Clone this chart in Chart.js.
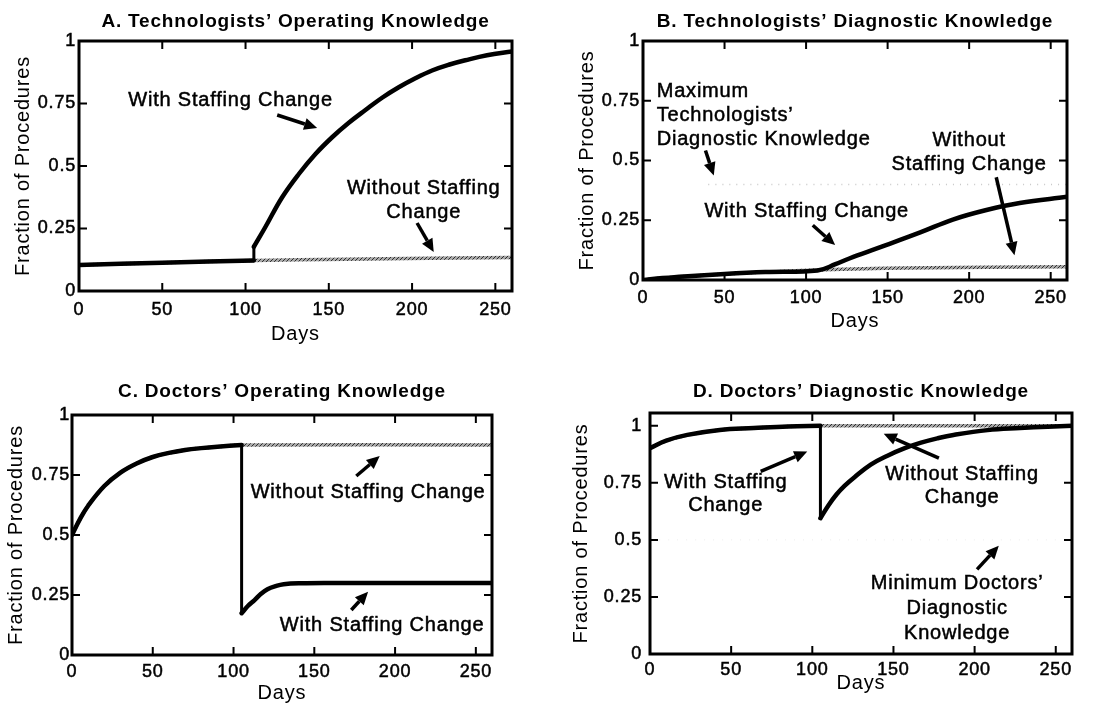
<!DOCTYPE html>
<html>
<head>
<meta charset="utf-8">
<title>Staffing change simulation</title>
<script src="https://cdn.jsdelivr.net/npm/chart.js@4.4.0/dist/chart.umd.min.js"></script>
<style>
  html, body { margin: 0; padding: 0; background: #fff; }
  #wrap { position: relative; width: 1108px; height: 705px; overflow: hidden; }
  #wrap canvas { position: absolute; }
</style>
</head>
<body>
<div id="wrap">
  <canvas id="chartA" width="554" height="346" style="left:0;top:0"></canvas>
  <canvas id="chartB" width="554" height="346" style="left:554px;top:0"></canvas>
  <canvas id="chartC" width="554" height="355" style="left:0;top:350px"></canvas>
  <canvas id="chartD" width="554" height="355" style="left:554px;top:350px"></canvas>
</div>
<script>
// ---------- data ----------
const dayTicks = [0, 50, 100, 150, 200, 250];
const fracTicks = [0, 0.25, 0.5, 0.75, 1];

// A. Technologists' operating knowledge
const aWithDays    = [0, 50, 105, 105, 112, 122, 132, 142, 152, 162, 172, 182, 192, 202, 212, 222, 232, 245, 260];
const aWithVals    = [0.104, 0.113, 0.122, 0.177, 0.257, 0.375, 0.468, 0.548, 0.615, 0.673, 0.724, 0.773, 0.815, 0.851, 0.882, 0.905, 0.923, 0.943, 0.958];
const aWithoutDays = [0, 50, 105, 160, 260];
const aWithoutVals = [0.104, 0.113, 0.122, 0.127, 0.134];

// B. Technologists' diagnostic knowledge
const bWithDays    = [0, 12, 25, 50, 75, 107, 118, 129, 149, 170, 190, 210, 231, 260];
const bWithVals    = [0, 0.008, 0.015, 0.025, 0.033, 0.040, 0.066, 0.097, 0.146, 0.199, 0.253, 0.292, 0.322, 0.348];
const bWithoutDays = [0, 12, 25, 50, 75, 107, 160, 260];
const bWithoutVals = [0, 0.008, 0.015, 0.025, 0.033, 0.042, 0.050, 0.055];
const bMaxDays     = [40, 260];
const bMaxVals     = [0.4, 0.4];

// C. Doctors' operating knowledge
const cWithDays    = [0, 5, 10, 20, 30, 40, 50, 60, 70, 80, 90, 105, 105, 109, 113, 117, 121, 126, 131, 142, 160, 260];
const cWithVals    = [0.5, 0.567, 0.622, 0.704, 0.76, 0.798, 0.825, 0.842, 0.854, 0.862, 0.868, 0.875, 0.174, 0.205, 0.229, 0.255, 0.274, 0.287, 0.295, 0.299, 0.30, 0.30];
const cWithoutDays = [0, 5, 10, 20, 30, 40, 50, 60, 70, 80, 90, 105, 260];
const cWithoutVals = [0.5, 0.567, 0.622, 0.704, 0.76, 0.798, 0.825, 0.842, 0.854, 0.862, 0.868, 0.875, 0.875];

// D. Doctors' diagnostic knowledge
const dWithDays    = [0, 10, 23, 43, 64, 85, 105, 105, 110, 115, 120, 126, 136, 146, 157, 167, 177, 187, 208, 228, 245, 260];
const dWithVals    = [0.902, 0.935, 0.96, 0.982, 0.99, 0.997, 1.0, 0.595, 0.652, 0.700, 0.738, 0.775, 0.830, 0.868, 0.902, 0.926, 0.945, 0.96, 0.981, 0.99, 0.996, 1.0];
const dWithoutDays = [0, 10, 23, 43, 64, 85, 105, 260];
const dWithoutVals = [0.902, 0.935, 0.96, 0.982, 0.99, 0.997, 1.0, 1.0];
const dMinDays     = [0, 260];
const dMinVals     = [0.5, 0.5];

// annotations, in data units: [text, day, value, align]
const aTexts  = [['With Staffing Change', 91, 0.764], ['Without Staffing', 207, 0.412], ['Change', 207, 0.316]];
const aArrows = [[119, 0.704, 143, 0.652], [203, 0.272, 213, 0.156]];
const bTexts  = [['Maximum', 8.4, 0.789, 'left'], ['Technologists\u2019', 8.4, 0.6875, 'left'], ['Diagnostic Knowledge', 8.4, 0.59, 'left'],
                 ['Without', 200, 0.583], ['Staffing Change', 200, 0.482], ['With Staffing Change', 100.4, 0.2875]];
const bArrows = [[38.3, 0.542, 43.4, 0.4375], [216.6, 0.43, 227.8, 0.104], [104.1, 0.229, 117.8, 0.146]];
const cTexts  = [['Without Staffing Change', 183.3, 0.676], ['With Staffing Change', 192, 0.125]];
const cArrows = [[176, 0.746, 190.5, 0.829], [172.9, 0.1875, 183.3, 0.264]];
const dTexts  = [['With Staffing', 46.6, 0.751], ['Change', 46.6, 0.649], ['Without Staffing', 192.3, 0.788], ['Change', 192.3, 0.686],
                 ['Minimum Doctors\u2019', 189.2, 0.31], ['Diagnostic', 189.2, 0.20], ['Knowledge', 189.2, 0.09]];
const dArrows = [[68.2, 0.80, 96.9, 0.887], [178, 0.858, 144, 0.965], [201.5, 0.371, 214.9, 0.474]];

// ---------- helpers ----------
const FONT = "'Liberation Sans', Arial, Helvetica, sans-serif";

// grey hatched stroke used for the "without" runs
const hatch = (function () {
    const c = document.createElement('canvas');
    c.width = 4; c.height = 4;
    const g = c.getContext('2d');
    g.fillStyle = '#a8a8a8';
    g.fillRect(0, 0, 4, 4);
    g.fillStyle = '#2e2e2e';
    for (let i = 0; i < 4; i++) g.fillRect(i, 3 - i, 1, 1);
    return g.createPattern(c, 'repeat');
})();

// split a series where a day repeats (sudden jump) so the curve stays smooth
function segments(days, vals) {
    const parts = [];
    let cur = [];
    days.forEach((d, i) => {
        if (i > 0 && d === days[i - 1]) {
            parts.push(cur);
            parts.push([{ x: d, y: vals[i - 1] }, { x: d, y: vals[i] }]);
            cur = [];
        }
        cur.push({ x: d, y: vals[i] });
    });
    parts.push(cur);
    return parts;
}

// box with inward ticks on all four sides
const frame = {
    id: 'frame',
    beforeUpdate(chart) { chart.ctx.letterSpacing = '0.8px'; },
    beforeDraw(chart) { chart.ctx.letterSpacing = '0.8px'; },
    afterDatasetsDraw(chart) {
        const { ctx, chartArea: a, scales: { x, y } } = chart;
        ctx.save();
        ctx.strokeStyle = '#000';
        ctx.lineWidth = 2;
        ctx.beginPath();
        x.ticks.forEach(t => {
            const p = x.getPixelForValue(t.value);
            ctx.moveTo(p, a.bottom); ctx.lineTo(p, a.bottom - 8);
            ctx.moveTo(p, a.top); ctx.lineTo(p, a.top + 8);
        });
        y.ticks.forEach(t => {
            const p = y.getPixelForValue(t.value);
            ctx.moveTo(a.left, p); ctx.lineTo(a.left + 8, p);
            ctx.moveTo(a.right, p); ctx.lineTo(a.right - 8, p);
        });
        ctx.stroke();
        ctx.lineWidth = 3;
        ctx.strokeRect(a.left, a.top, a.right - a.left, a.bottom - a.top);
        ctx.restore();
    }
};

function notes(texts, arrows) {
    return {
        id: 'notes',
        afterDraw(chart) {
            const { ctx, scales: { x, y } } = chart;
            ctx.save();
            ctx.fillStyle = '#000';
            ctx.strokeStyle = '#000';
            ctx.font = '20px ' + FONT;
            ctx.letterSpacing = '0.8px';
            ctx.textBaseline = 'middle';
            ctx.lineWidth = 0.5;
            texts.forEach(t => {
                ctx.textAlign = t[3] || 'center';
                const px = x.getPixelForValue(t[1]), py = y.getPixelForValue(t[2]);
                ctx.fillText(t[0], px, py);
                ctx.strokeText(t[0], px, py);
            });
            arrows.forEach(r => {
                const x1 = x.getPixelForValue(r[0]), y1 = y.getPixelForValue(r[1]);
                const x2 = x.getPixelForValue(r[2]), y2 = y.getPixelForValue(r[3]);
                const ang = Math.atan2(y2 - y1, x2 - x1);
                const head = 13, half = 6;
                const bx = x2 - head * Math.cos(ang), by = y2 - head * Math.sin(ang);
                ctx.lineWidth = 3.5;
                ctx.beginPath();
                ctx.moveTo(x1, y1);
                ctx.lineTo(bx, by);
                ctx.stroke();
                ctx.beginPath();
                ctx.moveTo(x2, y2);
                ctx.lineTo(bx + half * Math.sin(ang), by - half * Math.cos(ang));
                ctx.lineTo(bx - half * Math.sin(ang), by + half * Math.cos(ang));
                ctx.closePath();
                ctx.fill();
            });
            ctx.restore();
        }
    };
}

function panel(id, o) {
    const datasets = [];
    o.lines.forEach(l => {
        segments(l.days, l.vals).forEach(pts => {
            const jump = pts.length === 2 && pts[0].x === pts[1].x;
            datasets.push({
                data: pts,
                borderColor: l.color,
                borderWidth: jump ? l.width - 1.5 : l.width,
                borderDash: l.dash || [],
                tension: 0.4,
                pointRadius: 0,
                borderCapStyle: l.dash ? 'butt' : 'round',
                borderJoinStyle: 'round',
                fill: false
            });
        });
    });

    new Chart(document.getElementById(id), {
        type: 'line',
        data: { datasets: datasets },
        plugins: [frame, notes(o.texts, o.arrows)],
        options: {
            responsive: false,
            animation: false,
            events: [],
            layout: { padding: { left: 0, top: 0, bottom: 0, right: o.padRight } },
            plugins: {
                legend: { display: false },
                tooltip: { enabled: false },
                title: {
                    display: true, fullSize: false, text: o.title, color: '#000',
                    font: { family: FONT, size: 19, weight: 'bold' },
                    padding: { top: o.titleTop, bottom: o.titleBottom }
                }
            },
            scales: {
                x: {
                    type: 'linear', min: 0, max: 260,
                    grid: { display: false, drawTicks: false },
                    border: { display: false },
                    afterBuildTicks: s => { s.ticks = dayTicks.map(v => ({ value: v })); },
                    ticks: { color: '#000', padding: o.xTickPad, maxRotation: 0, autoSkip: false,
                             textStrokeColor: '#000', textStrokeWidth: 0.5,
                             font: { family: FONT, size: 18 }, callback: v => String(v) },
                    title: { display: true, text: 'Days', color: '#000', font: { family: FONT, size: 20 },
                             padding: { top: 0, bottom: o.xTitlePad } },
                    afterFit: s => { s.height = o.xHeight; }
                },
                y: {
                    type: 'linear', min: 0, max: o.yMax,
                    grid: { display: false, drawTicks: false },
                    border: { display: false },
                    afterBuildTicks: s => { s.ticks = fracTicks.map(v => ({ value: v })); },
                    ticks: { color: '#000', padding: o.yTickPad, autoSkip: false,
                             textStrokeColor: '#000', textStrokeWidth: 0.5,
                             font: { family: FONT, size: 18 }, callback: v => String(v) },
                    title: { display: true, text: 'Fraction of Procedures', color: '#000', font: { family: FONT, size: 20 },
                             padding: { top: o.yTitlePad, bottom: 0 } },
                    afterFit: s => { s.width = o.yWidth; }
                }
            }
        }
    });
}

// ---------- the four panels ----------
panel('chartA', {
    title: 'A. Technologists\u2019 Operating Knowledge',
    lines: [
        { days: aWithDays, vals: aWithVals, color: '#000', width: 4.5 },
        { days: aWithoutDays, vals: aWithoutVals, color: hatch, width: 3.5 }
    ],
    texts: aTexts, arrows: aArrows, yMax: 1,
    yWidth: 79, xHeight: 55, padRight: 42, titleTop: 10.6, titleBottom: 7.6,
    yTickPad: 3, yTitlePad: 11, xTickPad: 8, xTitlePad: 0
});

panel('chartB', {
    title: 'B. Technologists\u2019 Diagnostic Knowledge',
    lines: [
        { days: bWithDays, vals: bWithVals, color: '#000', width: 4.5 },
        { days: bWithoutDays, vals: bWithoutVals, color: hatch, width: 3.5 },
        { days: bMaxDays, vals: bMaxVals, color: '#c8c8c8', width: 1.5, dash: [1, 6] }
    ],
    texts: bTexts, arrows: bArrows, yMax: 1,
    yWidth: 89, xHeight: 66, padRight: 41, titleTop: 10.6, titleBottom: 7.6,
    yTickPad: 3, yTitlePad: 21.5, xTickPad: 7, xTitlePad: 12.3
});

panel('chartC', {
    title: 'C. Doctors\u2019 Operating Knowledge',
    lines: [
        { days: cWithDays, vals: cWithVals, color: '#000', width: 4.5 },
        { days: cWithoutDays, vals: cWithoutVals, color: hatch, width: 3.5 }
    ],
    texts: cTexts, arrows: cArrows, yMax: 1,
    yWidth: 72, xHeight: 50, padRight: 62, titleTop: 30.6, titleBottom: 11.6,
    yTickPad: 2, yTitlePad: 4.5, xTickPad: 6, xTitlePad: 0
});

panel('chartD', {
    title: 'D. Doctors\u2019 Diagnostic Knowledge',
    lines: [
        { days: dWithDays, vals: dWithVals, color: '#000', width: 4.5 },
        { days: dWithoutDays, vals: dWithoutVals, color: hatch, width: 3.5 },
        { days: dMinDays, vals: dMinVals, color: '#ececec', width: 1, dash: [1, 8] }
    ],
    texts: dTexts, arrows: dArrows, yMax: 1.056,
    yWidth: 96, xHeight: 51, padRight: 36, titleTop: 30.6, titleBottom: 9.6,
    yTickPad: 8, yTitlePad: 15.5, xTickPad: 5, xTitlePad: 9.7
});
</script>
</body>
</html>
